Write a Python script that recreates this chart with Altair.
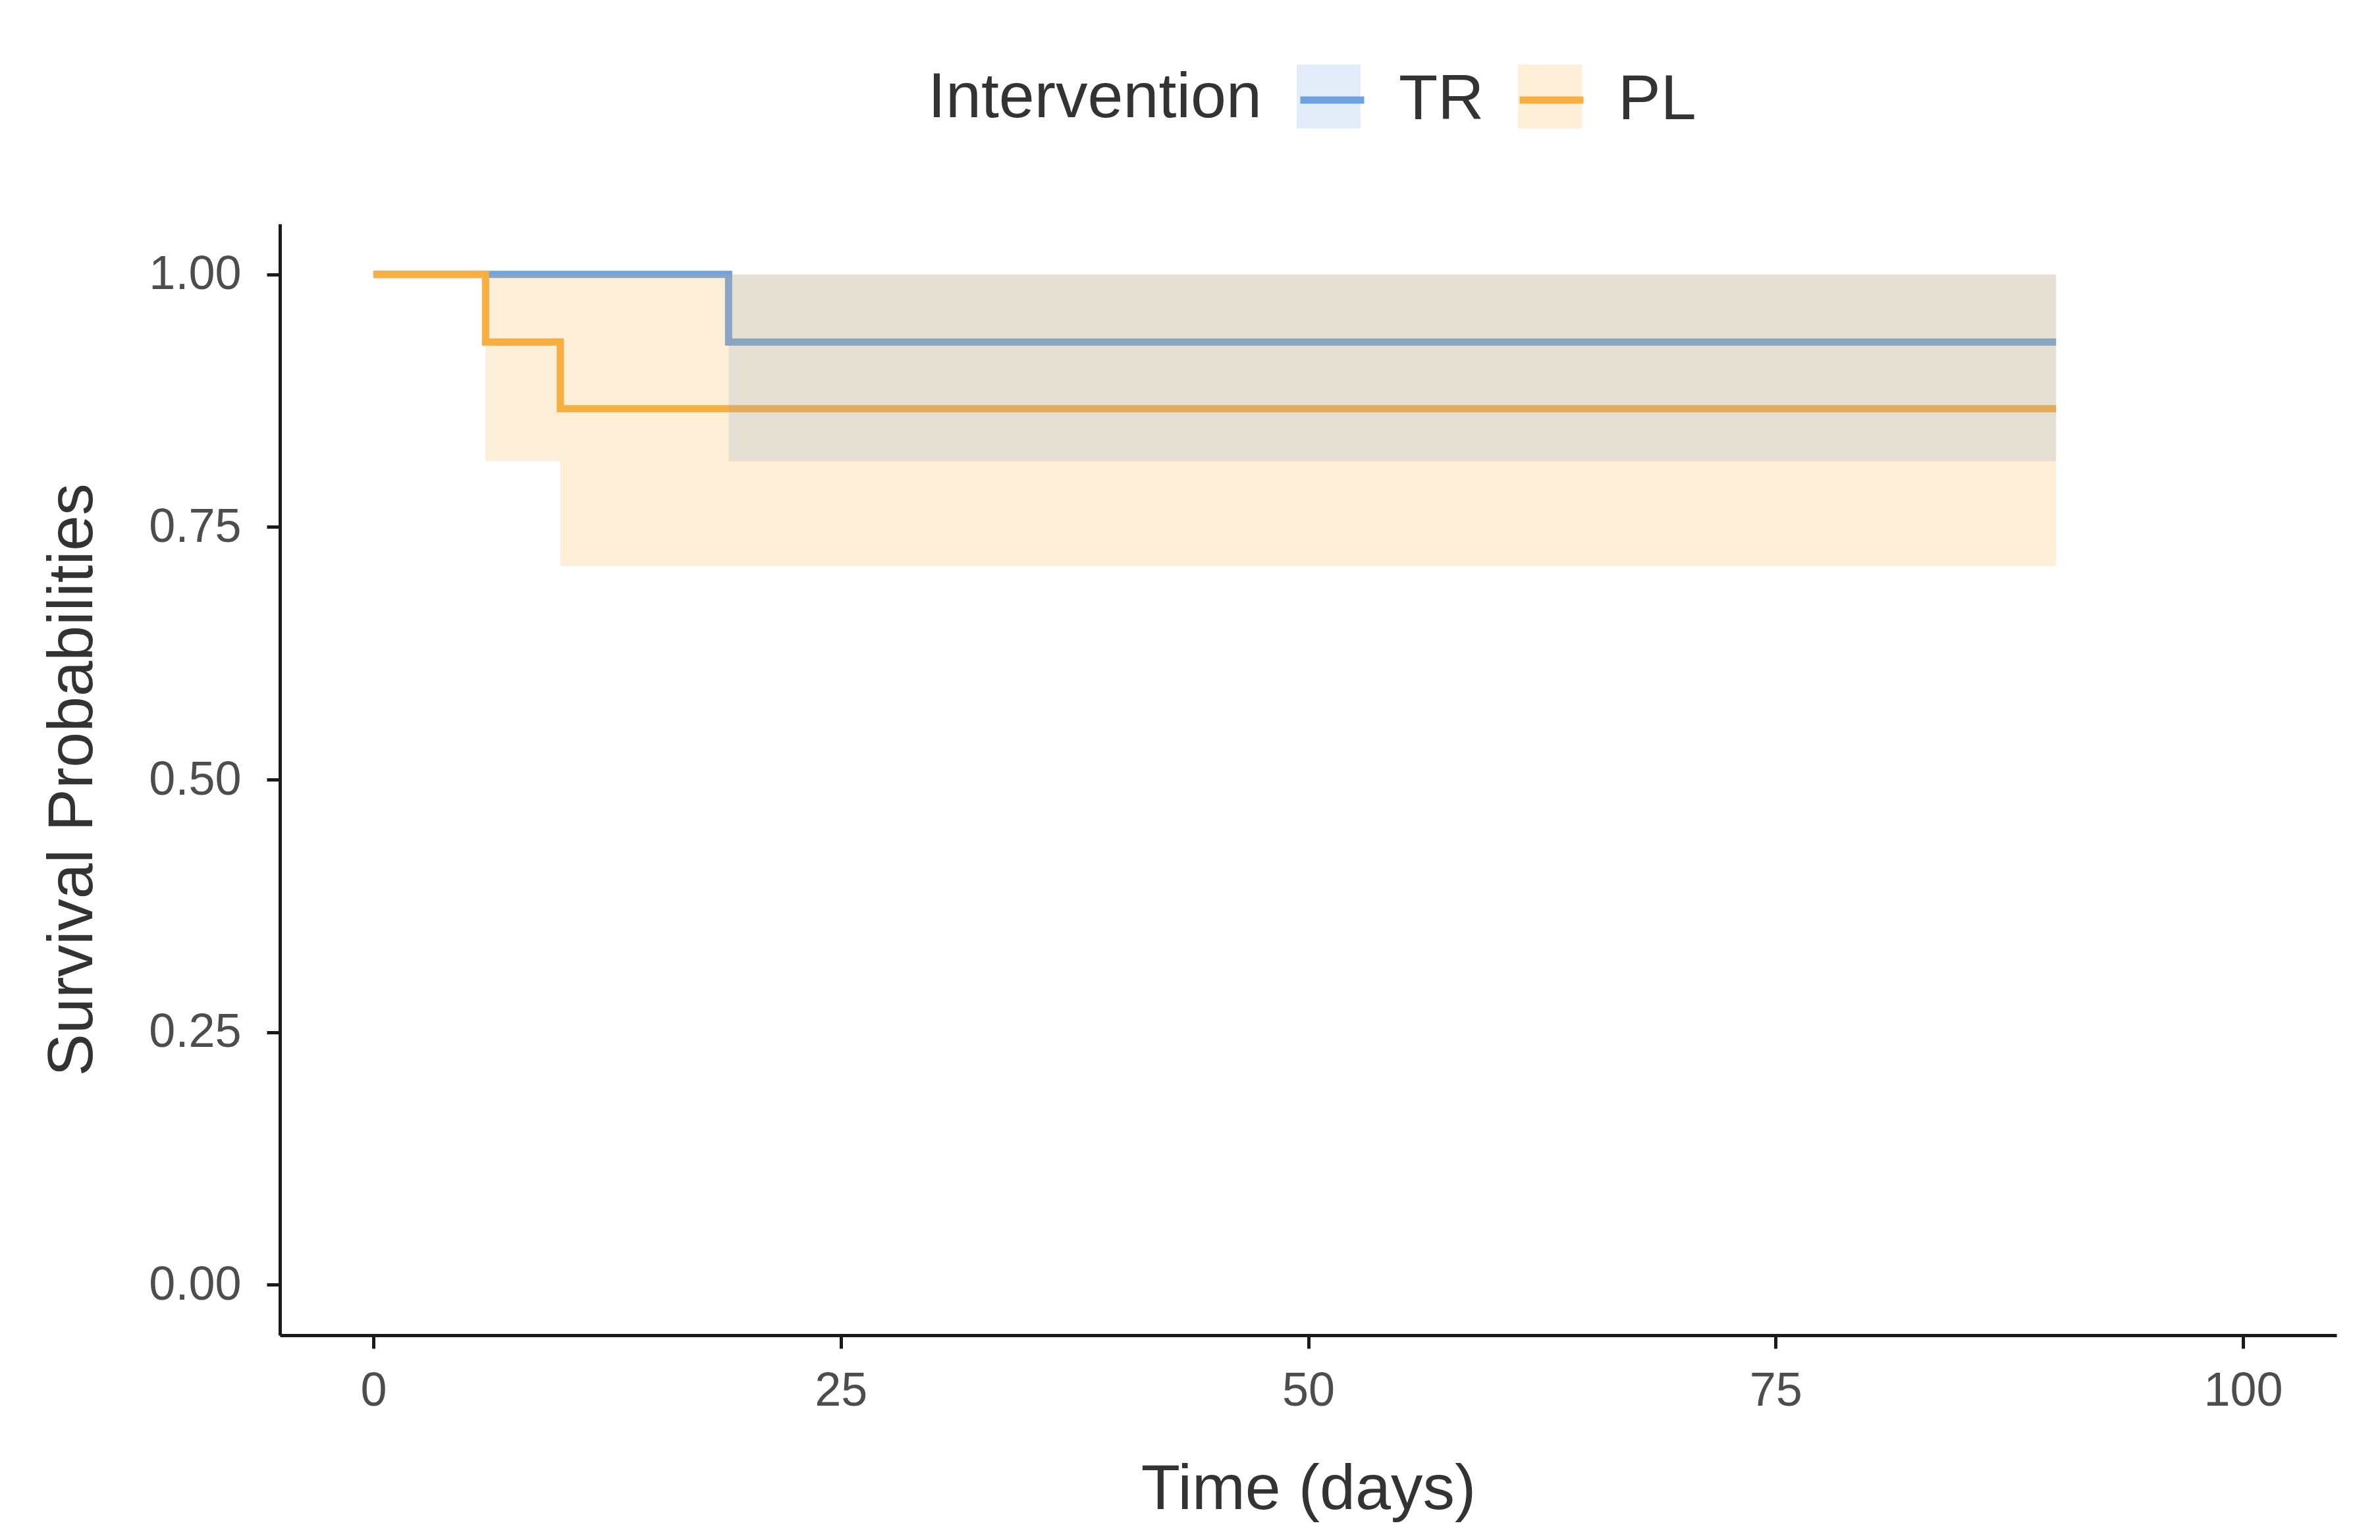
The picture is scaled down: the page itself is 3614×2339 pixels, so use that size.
import altair as alt
import pandas as pd

groups = ["TR", "PL"]
colors = ["#6FA3E2", "#F8B043"]

tr_time = [0, 19, 90]
tr_surv = [1.0, 0.933, 0.933]
tr_lower = [1.0, 0.815, 0.815]
tr_upper = [1.0, 1.0, 1.0]

pl_time = [0, 6, 10, 90]
pl_surv = [1.0, 0.933, 0.867, 0.867]
pl_lower = [1.0, 0.815, 0.711, 0.711]
pl_upper = [1.0, 1.0, 1.0, 1.0]

x_ticks = [0, 25, 50, 75, 100]
y_ticks = [0.0, 0.25, 0.5, 0.75, 1.0]

line_rows, band_rows = [], []
for g, t, s, lo, up in [("TR", tr_time, tr_surv, tr_lower, tr_upper),
                        ("PL", pl_time, pl_surv, pl_lower, pl_upper)]:
    for i in range(len(t)):
        line_rows.append({"group": g, "time": t[i], "surv": s[i], "order": i})
        band_rows.append({"band": g, "t": t[i], "lo": lo[i], "hi": up[i]})
line_df = pd.DataFrame(line_rows)
band_df = pd.DataFrame(band_rows)

FONT = "Liberation Sans"
FS = 97
LX, LY = 984, -242
TITLE_W = 507      # width of the legend title text at FS
TITLE_PAD = 53
LABEL_OFF = 47
COL_PAD = 31
FILL_COL_PAD = 239
LW = 11

xscale = alt.Scale(domain=[-5, 105], nice=False, zero=False)
yscale = alt.Scale(domain=[-0.05, 1.05], nice=False, zero=False)
x_axis = alt.Axis(values=x_ticks, title="Time (days)", labelPadding=29, titlePadding=66)
y_axis = alt.Axis(values=y_ticks, format=".2f", title="Survival Probabilities",
                  labelPadding=39, titlePadding=66)

lines = alt.Chart(line_df).mark_line(interpolate="step-after", strokeWidth=LW).encode(
    x=alt.X("time:Q", scale=xscale, axis=x_axis),
    y=alt.Y("surv:Q", scale=yscale, axis=y_axis),
    stroke=alt.Stroke("group:N", scale=alt.Scale(domain=groups, range=colors),
                      legend=alt.Legend(title="Intervention", titleLimit=2000,
                                        orient="none", legendX=LX, legendY=LY,
                                        direction="horizontal", titleOrient="left",
                                        titlePadding=TITLE_PAD, symbolType="stroke",
                                        symbolSize=9409, symbolStrokeWidth=LW,
                                        labelOffset=LABEL_OFF, columnPadding=COL_PAD)),
    order="order:Q",
)

bands = alt.Chart(band_df).mark_area(interpolate="step-after", fillOpacity=0.2).encode(
    x=alt.X("t:Q", scale=xscale),
    y=alt.Y("lo:Q", scale=yscale, stack=False),
    y2="hi:Q",
    fill=alt.Fill("band:N", sort=groups, scale=alt.Scale(range=colors),
                  legend=alt.Legend(title=None, orient="none",
                                    legendX=LX + TITLE_W + TITLE_PAD, legendY=LY,
                                    direction="horizontal", symbolType="square",
                                    symbolSize=9409, symbolOpacity=0.2,
                                    symbolStrokeWidth=0, labelExpr="''",
                                    labelOffset=0, columnPadding=FILL_COL_PAD)),
)

chart = alt.layer(lines, bands).resolve_scale(fill="independent", stroke="independent").properties(
    width=3123, height=1688,
    padding={"left": 53, "top": 90, "right": 30, "bottom": 20},
).configure_view(stroke=None).configure_axis(
    grid=False,
    domainColor="#1a1a1a", domainWidth=5,
    tickColor="#1a1a1a", tickWidth=5, tickSize=20,
    labelFont=FONT, labelFontSize=72, labelColor="#4D4D4D",
    titleFont=FONT, titleFontSize=FS, titleColor="#333333", titleFontWeight="normal",
).configure_legend(
    labelFont=FONT, labelFontSize=FS, labelColor="#333333",
    titleFont=FONT, titleFontSize=FS, titleColor="#333333", titleFontWeight="normal",
)

chart.save("out.html", embed_options={"renderer": "svg", "actions": False})
